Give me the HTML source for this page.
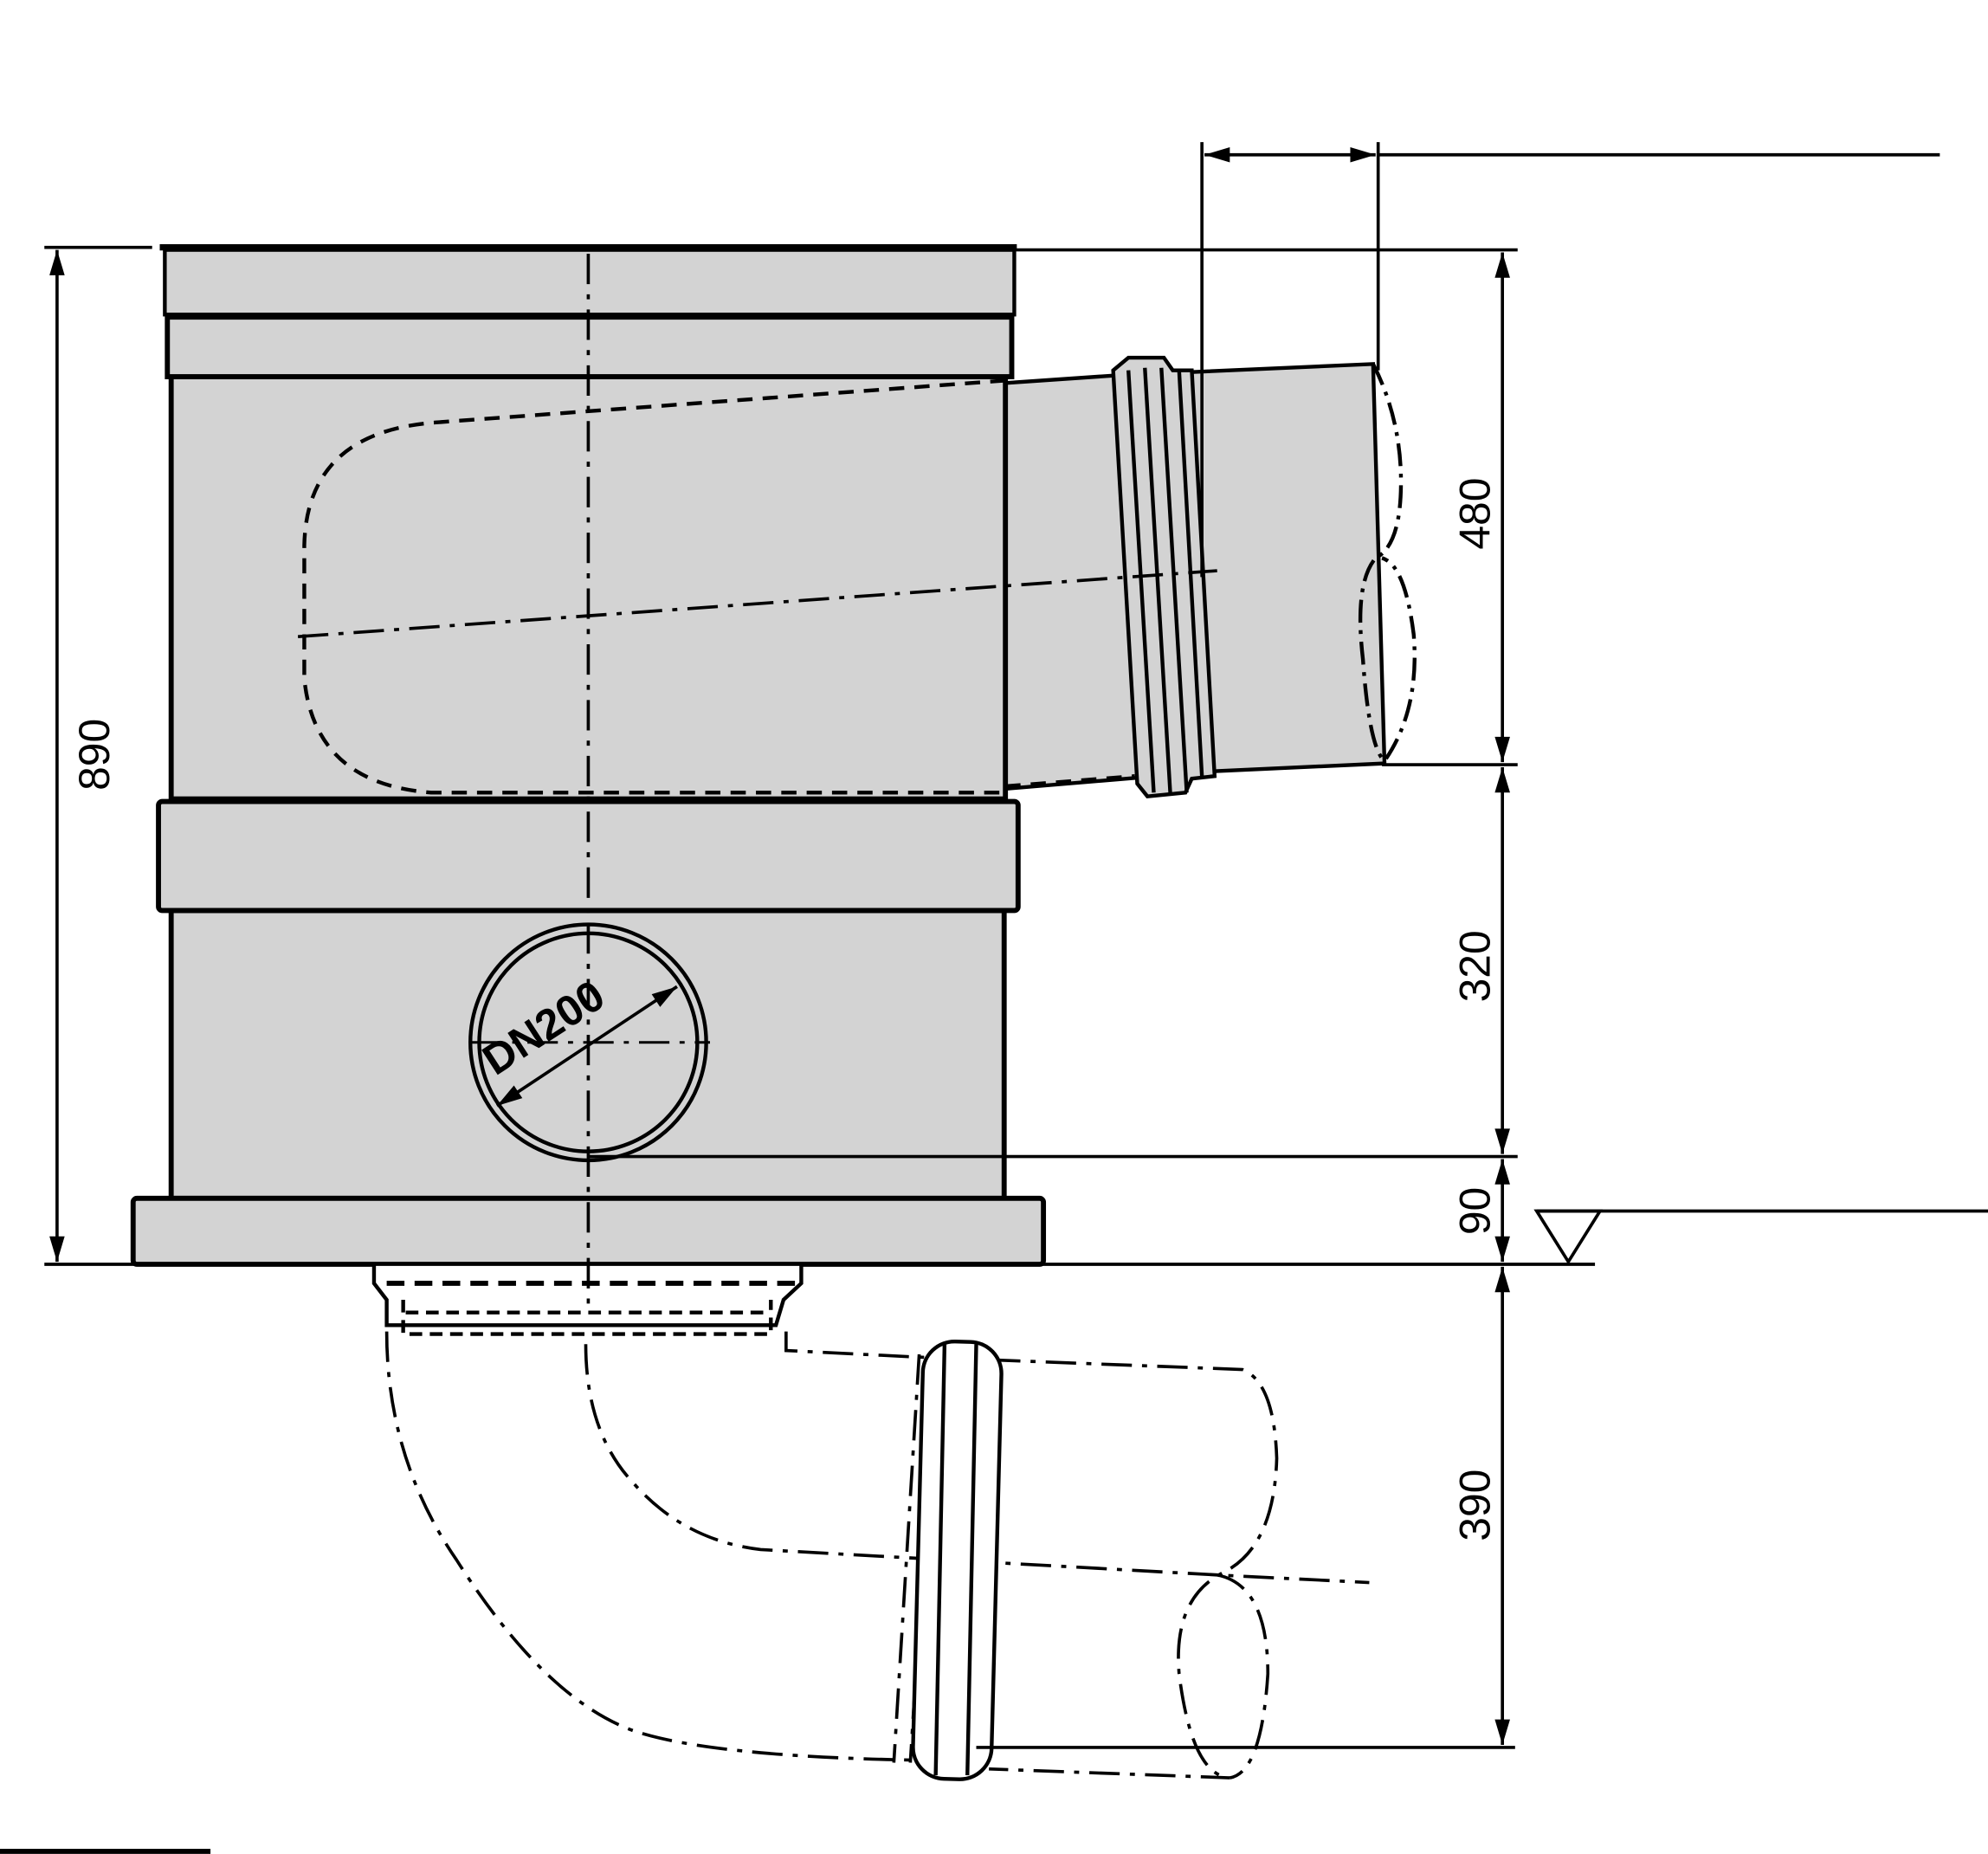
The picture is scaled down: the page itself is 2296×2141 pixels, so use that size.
<!DOCTYPE html>
<html><head><meta charset="utf-8"><style>
html,body{margin:0;padding:0;background:#fff}
svg{display:block}
text{font-family:"Liberation Sans",sans-serif;font-size:34px;fill:#000}
</style></head><body>
<svg width="2296" height="2141" viewBox="0 0 1568 1462" xmlns="http://www.w3.org/2000/svg">
<defs>
<marker id="a" viewBox="0 0 10 10" refX="10" refY="5" markerWidth="12" markerHeight="8" orient="auto-start-reverse"><path d="M0,2 L10,5 L0,8 z" fill="#000"/></marker>
</defs>
<g stroke="#000" fill="#d3d3d3">
<polygon points="793,302 880,296 1083,287 1092,602 960,608 793,622" stroke-width="3"/>
<polygon points="878,292 890,282 918,282 925,292 940,292 958,612 940,614 935,625 905,628 897,618" stroke-width="3"/>
<rect x="135" y="297" width="658" height="333" stroke-width="4"/>
<rect x="135" y="718" width="657" height="227" stroke-width="4"/>
<rect x="130" y="197" width="670" height="51" stroke-width="3"/>
<rect x="132" y="250" width="666" height="47" stroke-width="4"/>
<rect x="125" y="632" width="678" height="86" rx="3" stroke-width="4"/>
<rect x="105" y="945" width="718" height="52" rx="3" stroke-width="4"/>
<path d="M295,997 L295,1012 L305,1025 L305,1045 L612,1045 L618,1025 L632,1012 L632,997" stroke-width="3" fill="#fff"/>
</g>
<g stroke="#000" fill="none" stroke-width="3">
<line x1="126" y1="195" x2="802" y2="195" stroke-width="5"/>
<path d="M890,292 L910,625 M903,290 L923,625 M916,290 L936,625 M930,292 L948,612"/>
<path d="M793,300 L345,333 Q242,340 240,430 L240,535 Q248,618 340,625 L793,625" stroke-dasharray="12 8"/>
<path d="M793,620 L895,612" stroke-dasharray="12 8"/>
<path d="M1083,287 Q1105,330 1105,380 Q1105,430 1085,440 Q1068,460 1075,520 Q1080,590 1092,600 Q1120,560 1115,500 Q1108,445 1090,440" stroke-dasharray="18 6 3 6"/>
<line x1="464" y1="200" x2="464" y2="1035" stroke-dasharray="24 8 4 8" stroke-width="2.5"/>
<line x1="235" y1="502" x2="960" y2="450" stroke-dasharray="24 8 4 8" stroke-width="2.5"/>
<circle cx="464" cy="822" r="93"/>
<circle cx="464" cy="822" r="86"/>
<line x1="372" y1="822" x2="560" y2="822" stroke-dasharray="24 8 4 8" stroke-width="2"/>
<line x1="392" y1="872" x2="534" y2="778" stroke-width="2.5" marker-start="url(#a)" marker-end="url(#a)"/>
<path d="M305,1012 L630,1012" stroke-dasharray="14 8" stroke-width="4"/>
<path d="M318,1025 L318,1052 L608,1052 L608,1025 M320,1035 L605,1035" stroke-dasharray="10 6"/>
<g stroke-dasharray="24 8 4 8" stroke-width="2.5">
<path d="M305,1050 Q305,1150 360,1230 Q430,1340 500,1365 Q560,1385 720,1388"/>
<path d="M462,1060 Q462,1130 500,1170 Q540,1215 600,1222 L960,1242 L1080,1248"/>
<path d="M620,1050 L620,1065 L720,1070 L980,1080 Q1005,1090 1007,1150 Q1005,1220 965,1240 Q925,1260 930,1320 Q940,1400 970,1402 L780,1395"/>
<path d="M960,1242 Q1000,1250 1000,1320 Q995,1398 970,1402"/>
<path d="M725,1068 L705,1390 M738,1068 L718,1390 M785,1068 L772,1390"/>
</g>
<rect x="724" y="1058" width="62" height="345" rx="25" transform="rotate(1.5 755 1230)" fill="#fff"/>
<path d="M745,1060 L738,1400 M770,1060 L763,1400"/>
<g stroke-width="2.5">
<line x1="45" y1="197" x2="45" y2="995" marker-start="url(#a)" marker-end="url(#a)"/>
<line x1="35" y1="195" x2="120" y2="195"/>
<line x1="35" y1="997" x2="1258" y2="997"/>
<line x1="800" y1="197" x2="1197" y2="197"/>
<line x1="1090" y1="603" x2="1197" y2="603"/>
<line x1="464" y1="912" x2="1197" y2="912"/>
<line x1="770" y1="1378" x2="1195" y2="1378"/>
<line x1="1185" y1="199" x2="1185" y2="601" marker-start="url(#a)" marker-end="url(#a)"/>
<line x1="1185" y1="605" x2="1185" y2="910" marker-start="url(#a)" marker-end="url(#a)"/>
<line x1="1185" y1="914" x2="1185" y2="995" marker-start="url(#a)" marker-end="url(#a)"/>
<line x1="1185" y1="999" x2="1185" y2="1376" marker-start="url(#a)" marker-end="url(#a)"/>
<line x1="948" y1="112" x2="948" y2="455"/>
<line x1="1087" y1="112" x2="1087" y2="292"/>
<line x1="950" y1="122" x2="1085" y2="122" marker-start="url(#a)" marker-end="url(#a)"/>
<line x1="1087" y1="122" x2="1530" y2="122"/>
<polygon points="1212,955 1262,955 1237,995"/>
<line x1="1212" y1="955" x2="1568" y2="955"/>
<line x1="0" y1="1460" x2="166" y2="1460" stroke-width="4"/>
</g>
</g>
<text transform="translate(86,595) rotate(-90)" text-anchor="middle">890</text>
<text transform="translate(1175,405) rotate(-90)" text-anchor="middle">480</text>
<text transform="translate(1175,762) rotate(-90)" text-anchor="middle">320</text>
<text transform="translate(1175,955) rotate(-90)" text-anchor="middle">90</text>
<text transform="translate(1175,1187) rotate(-90)" text-anchor="middle">390</text>
<text transform="translate(435,820) rotate(-33)" text-anchor="middle" font-size="28" font-weight="bold">DN200</text>
</svg>
</body></html>
